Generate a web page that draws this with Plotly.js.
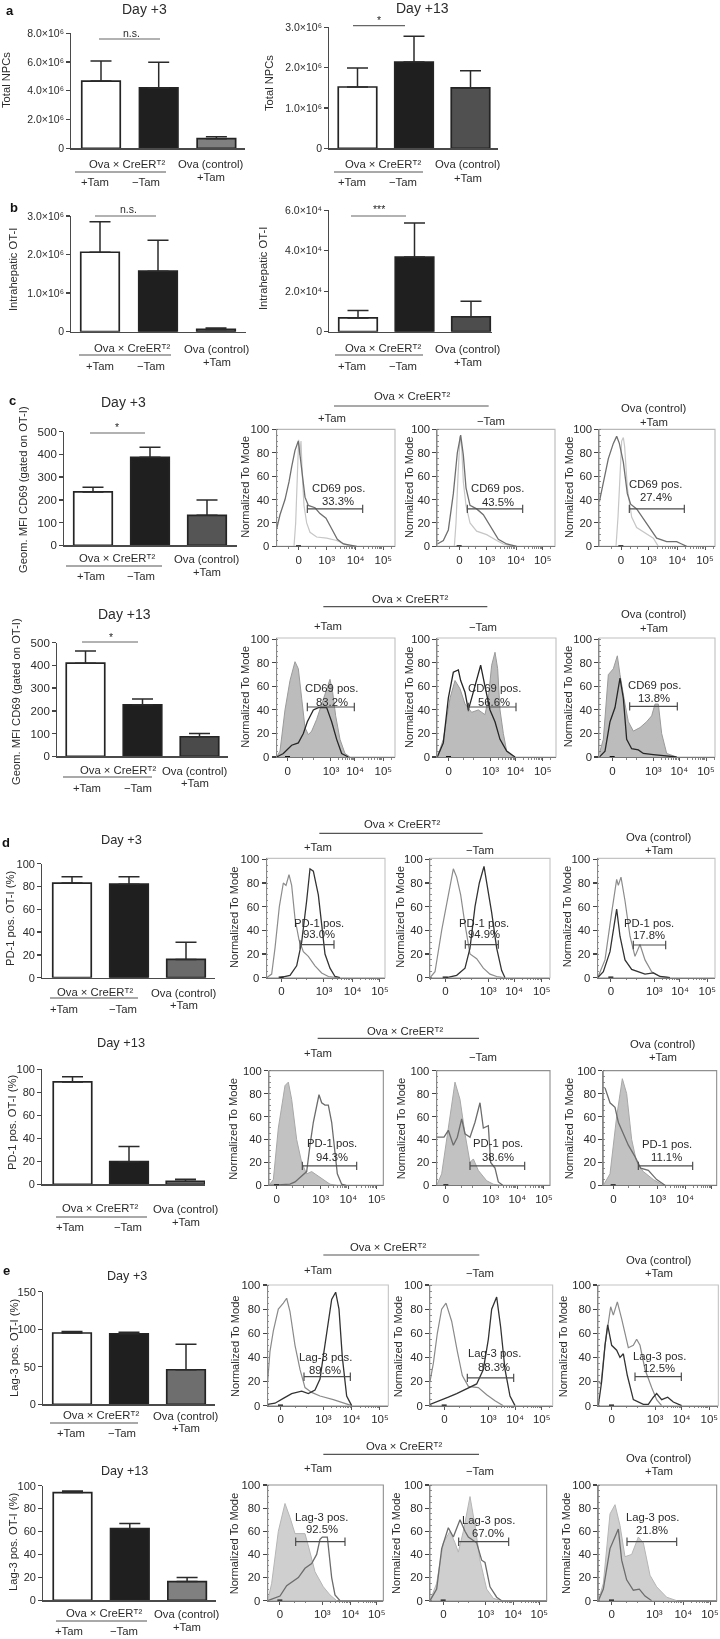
<!DOCTYPE html>
<html><head><meta charset="utf-8">
<script src="https://cdn.plot.ly/plotly-3.0.1.min.js"></script>
<style>html,body{margin:0;padding:0;background:#fff}#chart{width:720px;height:1639px;filter:blur(0.4px)}</style>
</head><body><div id="chart"></div>
<script>
/* ---------- bar chart data ---------- */
const barGroups = ['Ova x CreER +Tam', 'Ova x CreER -Tam', 'Ova (control) +Tam'];
const npcDay3 = [4.68e6, 4.2e6, 0.67e6],      npcDay3Upper = [6.07e6, 5.98e6, 0.81e6];
const npcDay13 = [1.52e6, 2.14e6, 1.50e6],    npcDay13Upper = [1.99e6, 2.78e6, 1.92e6];
const otiDay3 = [2.06e6, 1.57e6, 0.06e6],     otiDay3Upper = [2.85e6, 2.37e6, 0.095e6];
const otiDay13 = [0.68e4, 3.69e4, 0.74e4],    otiDay13Upper = [1.05e4, 5.37e4, 1.5e4];
const cd69Day3 = [235, 387, 132],             cd69Day3Upper = [255, 432, 199];
const cd69Day13 = [410, 227, 86],             cd69Day13Upper = [463, 252, 100];
const pd1Day3 = [83, 82, 16],                 pd1Day3Upper = [88.6, 88.6, 31];
const pd1Day13 = [89, 19.7, 2.6],             pd1Day13Upper = [93.6, 32.8, 4.3];
const lagDay3 = [95, 94, 46],                 lagDay3Upper = [97, 96, 80];
const lagDay13 = [94, 62.5, 16.3],            lagDay13Upper = [95.3, 67, 20];

/* ---------- histogram data: [channel, % of mode] ---------- */
const histTickText = ['0', '10³', '10⁴', '10⁵'];
const groupLabel = 'Ova × CreERᵀ²';
const cd3TamIso = [[222,0],[227,20],[232,60],[234,85],[236,91],[239,78],[243,90],[247,60],[252,35],[260,20],[270,12],[290,8],[320,7],[350,5],[375,2],[390,0]];
const cd3TamCd = [[170,15],[180,27],[195,40],[207,55],[215,68],[225,82],[235,90],[240,78],[247,62],[255,42],[265,35],[285,33],[300,28],[318,24],[335,15],[352,6],[370,2],[395,0.5],[410,0]];
const cd3NoIso = [[703,0],[708,20],[714,60],[720,94],[725,85],[730,55],[738,35],[750,20],[770,13],[800,10],[830,5],[850,2],[880,0]];
const cd3NoCd = [[652,2],[670,5],[685,14],[700,45],[712,80],[722,95],[730,78],[738,50],[750,35],[770,32],[790,27],[810,18],[835,6],[860,2],[890,0]];
const cd3CtlIso = [[1188,0],[1194,25],[1200,60],[1205,90],[1210,93],[1214,85],[1222,50],[1235,25],[1250,16],[1280,11],[1300,7],[1315,0]];
const cd3CtlCd = [[1138,38],[1150,55],[1165,75],[1180,88],[1190,94],[1198,88],[1210,72],[1222,45],[1232,36],[1250,32],[1270,24],[1290,15],[1310,7],[1340,4],[1370,4],[1385,2],[1400,0]];
const cd13TamIso = [[170,0],[180,5],[195,40],[210,65],[225,81],[235,75],[245,50],[255,25],[265,19],[275,22],[290,32],[305,45],[320,58],[330,66],[338,55],[347,35],[360,15],[375,3],[390,0]];
const cd13TamCd = [[170,0],[190,3],[215,10],[235,12],[250,20],[262,30],[280,40],[295,42],[320,42],[335,30],[350,15],[365,3],[385,0]];
const cd13NoIso = [[652,0],[670,15],[690,50],[705,65],[720,58],[735,45],[755,38],[775,40],[795,36],[805,50],[815,78],[825,89],[833,75],[840,40],[850,20],[860,5],[880,0]];
const cd13NoCd = [[652,0],[670,12],[685,50],[700,72],[715,74],[722,65],[735,55],[745,40],[755,50],[770,65],[782,78],[795,60],[810,40],[825,30],[840,15],[860,5],[885,0]];
const cd13CtlIso = [[1138,3],[1150,15],[1165,70],[1180,75],[1192,86],[1200,70],[1215,45],[1225,30],[1240,22],[1260,25],[1280,30],[1295,35],[1305,45],[1315,45],[1325,20],[1340,3],[1370,0]];
const cd13CtlCd = [[1138,0],[1155,5],[1170,30],[1185,42],[1200,67],[1210,50],[1220,15],[1235,7],[1255,6],[1270,3],[1300,2],[1330,1],[1370,0]];
const pd3TamIso = [[140,0],[155,3],[165,25],[178,60],[190,80],[198,78],[207,87],[215,78],[225,50],[237,32],[250,22],[265,18],[285,10],[305,4],[325,1],[350,0]];
const pd3TamCd = [[180,0],[210,2],[230,10],[245,30],[260,65],[270,92],[280,90],[295,70],[305,45],[315,20],[330,8],[345,1],[360,0]];
const pd3NoIso = [[630,0],[645,5],[665,40],[685,70],[700,92],[710,85],[722,70],[735,45],[750,20],[770,16],[790,8],[810,3],[830,1],[850,0]];
const pd3NoCd = [[680,0],[710,2],[735,8],[750,25],[765,60],[778,80],[792,94],[803,75],[815,55],[830,25],[845,6],[855,0]];
const pd3CtlIso = [[1133,0],[1155,15],[1175,55],[1190,83],[1195,78],[1203,85],[1215,65],[1230,35],[1245,18],[1260,28],[1275,15],[1295,5],[1320,1],[1350,0]];
const pd3CtlCd = [[1133,0],[1150,5],[1170,22],[1190,58],[1200,35],[1215,15],[1235,7],[1255,5],[1275,3],[1300,4],[1320,1],[1350,0]];
const pd13TamIso = [[147,0],[160,5],[175,50],[195,87],[205,90],[215,75],[230,40],[245,20],[260,10],[275,12],[300,7],[330,1],[350,0]];
const pd13TamCd = [[147,0],[210,1],[225,3],[245,8],[260,12],[270,35],[280,55],[297,79],[305,72],[315,70],[325,70],[335,55],[345,30],[352,10],[365,1],[378,0]];
const pd13NoIso = [[650,0],[665,10],[685,50],[705,90],[720,75],[735,45],[750,20],[760,23],[775,13],[800,4],[820,1],[840,0]];
const pd13NoCd = [[650,42],[672,42],[685,48],[700,35],[712,42],[725,58],[735,45],[750,42],[765,55],[780,72],[790,50],[805,52],[812,20],[825,15],[835,3],[848,0]];
const pd13CtlIso = [[1150,0],[1170,10],[1190,60],[1207,93],[1220,80],[1235,40],[1250,20],[1270,12],[1300,5],[1330,0]];
const pd13CtlCd = [[1155,85],[1170,72],[1185,68],[1195,55],[1210,45],[1225,35],[1245,25],[1262,15],[1285,13],[1310,5],[1335,0]];
const lg3TamIso = [[143,20],[150,45],[160,62],[175,80],[190,85],[200,89],[210,78],[225,50],[240,30],[255,15],[275,11],[300,8],[340,5],[370,2],[395,0]];
const lg3TamCd = [[143,1],[165,2],[190,6],[215,10],[245,12],[265,10],[285,13],[300,22],[312,45],[325,70],[335,88],[347,94],[357,80],[367,40],[380,8],[395,0]];
const lg3NoIso = [[630,20],[640,35],[652,60],[665,80],[678,85],[695,70],[712,45],[727,25],[745,16],[775,15],[800,9],[825,4],[850,0]];
const lg3NoCd = [[630,1],[660,4],[685,7],[710,10],[740,14],[770,18],[790,30],[805,55],[815,80],[830,90],[842,65],[855,30],[870,8],[885,0]];
const lg3CtlIso = [[1135,20],[1143,18],[1155,50],[1172,82],[1180,75],[1192,86],[1205,72],[1225,48],[1240,50],[1250,55],[1260,50],[1275,30],[1295,15],[1310,5],[1325,0]];
const lg3CtlCd = [[1135,0],[1145,20],[1155,50],[1163,67],[1175,50],[1190,46],[1200,40],[1210,43],[1222,25],[1240,5],[1270,1],[1285,1],[1300,7],[1310,10],[1325,5],[1343,7],[1360,3],[1385,0]];
const lg13TamIso = [[143,0],[155,15],[175,60],[195,84],[210,72],[225,58],[240,58],[255,58],[270,42],[285,25],[310,12],[330,5],[350,0]];
const lg13TamCd = [[143,0],[180,4],[200,13],[215,16],[235,20],[255,28],[275,32],[290,40],[300,53],[307,55],[322,55],[335,20],[345,5],[360,0]];
const lg13NoIso = [[630,0],[650,15],[670,50],[690,60],[705,50],[715,42],[730,60],[750,90],[765,65],[780,35],[800,10],[820,2],[845,0]];
const lg13NoCd = [[630,0],[650,10],[665,45],[685,63],[700,55],[720,70],[735,60],[745,55],[770,50],[785,35],[795,33],[810,12],[830,3],[845,0]];
const lg13CtlIso = [[1135,0],[1150,15],[1170,75],[1185,83],[1200,65],[1215,38],[1235,40],[1255,55],[1270,50],[1290,22],[1310,12],[1340,3],[1370,0]];
const lg13CtlCd = [[1135,0],[1150,10],[1170,45],[1180,52],[1195,62],[1205,35],[1220,18],[1240,9],[1258,10],[1275,4],[1295,0]];

/* ---------- page layout ---------- */
const W = 720, H = 1639, FONT = 'Liberation Sans, Arial, sans-serif', INK = '#2b2b2b';
const traces = [], shapes = [], annotations = [];
const layout = {width:W, height:H, margin:{l:0,r:0,t:0,b:0,pad:0}, paper_bgcolor:'#fff', plot_bgcolor:'rgba(0,0,0,0)',
  showlegend:false, bargap:0, font:{family:FONT,color:INK}, shapes, annotations};
let axisCount = 0;
function text(t, px, py, size, opt){ if(!t) return; annotations.push(Object.assign({text:t, xref:'paper', yref:'paper', x:px/W, y:1-py/H,
  showarrow:false, xanchor:'center', yanchor:'middle', font:{family:FONT,size:size,color:INK}, borderpad:0}, opt||{})); }
function rule(x0,x1,y,color,width){ shapes.push({type:'line', xref:'paper', yref:'paper', x0:x0/W, x1:x1/W, y0:1-y/H, y1:1-y/H, line:{color:color||'#555',width:width||1.2}}); }
function newAxes(left,right,top,base){ axisCount++; const s = axisCount===1?'':axisCount;
  return {xa:'x'+s, ya:'y'+s, xk:'xaxis'+s, yk:'yaxis'+s, dx:[left/W,right/W], dy:[1-base/H,1-top/H]}; }

function barPanel(p){
  const a = newAxes(p.left,p.right,p.top,p.base);
  const c0 = p.c0, sp = p.sp;
  traces.push({type:'bar', x:[0,1,2], y:p.values, customdata:barGroups, width:38.5/sp, xaxis:a.xa, yaxis:a.ya,
    marker:{color:['#ffffff','#1f1f1f',p.gray], line:{color:'#242424',width:1.7}},
    error_y:{type:'data', symmetric:false, array:p.upper.map((u,i)=>u-p.values[i]), arrayminus:[0,0,0], color:'#2a2a2a', thickness:1.5, width:10.5}});
  layout[a.xk] = {domain:a.dx, anchor:a.ya, range:[(p.left-c0)/sp,(p.right-c0)/sp], showgrid:false, zeroline:false, showticklabels:false,
    ticks:'', showline:true, linecolor:'#4a4a4a', linewidth:1.4, fixedrange:true};
  layout[a.yk] = {domain:a.dy, anchor:a.xa, range:[0,p.ymax], showgrid:false, zeroline:false, tickmode:'array', tickvals:p.tickvals, ticktext:p.ticktext,
    ticks:'outside', ticklen:3.5, tickwidth:1.3, tickcolor:'#444', showline:true, linecolor:'#4a4a4a', linewidth:1.4,
    tickfont:{family:FONT,size:p.tf,color:INK}, fixedrange:true};
  text(p.title, p.yt[0], p.yt[1], 11.2, {textangle:-90});
  if (p.day) text(p.day[0], p.day[1], p.day[2], p.day[3]);
  const g = p.grp;
  text(groupLabel, g[0], g[1], 11.3);
  rule(g[2], g[3], g[4], '#555', 1.1);
  text('+Tam', g[5], g[6], 11.3); text('−Tam', g[7], g[6], 11.3);
  text('Ova (control)', g[8], g[1]+0.5, 11.3); text('+Tam', g[8], g[9], 11.3);
  if (p.sig) { rule(p.sig[0], p.sig[1], p.sig[2], '#666', 1.2); text(p.sig[3], p.sig[4], p.sig[5], 10.5); }
}
barPanel({left:71,right:245,top:33.3,base:148.3,c0:101,sp:57.7,values:npcDay3,upper:npcDay3Upper,gray:'#7f7f7f',ymax:8e6,tf:10.5,
  tickvals:[0,2e6,4e6,6e6,8e6],ticktext:['0','2.0×10⁶','4.0×10⁶','6.0×10⁶','8.0×10⁶'],title:'Total NPCs',yt:[6,80],day:['Day +3',144,9,14],
  grp:[127,164,75,166,172,95,182,146,211,177],sig:[99,160,39,'n.s.',131,33]});
barPanel({left:329,right:498,top:27.3,base:148.3,c0:357.5,sp:56.5,values:npcDay13,upper:npcDay13Upper,gray:'#505050',ymax:3e6,tf:10.5,
  tickvals:[0,1e6,2e6,3e6],ticktext:['0','1.0×10⁶','2.0×10⁶','3.0×10⁶'],title:'Total NPCs',yt:[269,83],day:['Day +13',422,8,14],
  grp:[383,164,334,423,172,352,182,403,468,178],sig:[353,405,25.7,'*',379,20]});
barPanel({left:71,right:246,top:216,base:331.7,c0:100,sp:58,values:otiDay3,upper:otiDay3Upper,gray:'#666666',ymax:3e6,tf:10.5,
  tickvals:[0,1e6,2e6,3e6],ticktext:['0','1.0×10⁶','2.0×10⁶','3.0×10⁶'],title:'Intrahepatic OT-I',yt:[13,270],
  grp:[132,348,79,171,355,100,366,151,217,362],sig:[95,156,216,'n.s.',128,209]});
barPanel({left:329,right:492,top:210.3,base:331.7,c0:358,sp:56.5,values:otiDay13,upper:otiDay13Upper,gray:'#4d4d4d',ymax:6e4,tf:10.5,
  tickvals:[0,2e4,4e4,6e4],ticktext:['0','2.0×10⁴','4.0×10⁴','6.0×10⁴'],title:'Intrahepatic OT-I',yt:[263,269],
  grp:[383,348,335,423,355,352,366,403,468,362],sig:[351,406,216,'***',379,209]});
const T500=[0,100,200,300,400,500], T100=[0,20,40,60,80,100];
barPanel({left:64,right:237,top:431.7,base:545.3,c0:93,sp:57,values:cd69Day3,upper:cd69Day3Upper,gray:'#555555',ymax:500,tf:11.5,
  tickvals:T500,ticktext:T500.map(String),title:'Geom. MFI CD69 (gated on OT-I)',yt:[23,490],day:['Day +3',123,402,14],
  grp:[117,558,66,162,566,91,576,141,207,572],sig:[90,145,433,'*',117,427]});
barPanel({left:57,right:228,top:642.7,base:756.3,c0:85.5,sp:57,values:cd69Day13,upper:cd69Day13Upper,gray:'#4a4a4a',ymax:500,tf:11.5,
  tickvals:T500,ticktext:T500.map(String),title:'Geom. MFI CD69 (gated on OT-I)',yt:[16,702],day:['Day +13',124,614,14],
  grp:[118,770,63,152,777,87,788,138,195,783],sig:[82,138,642,'*',111,637]});
barPanel({left:42,right:215,top:863.7,base:977.7,c0:72,sp:57,values:pd1Day3,upper:pd1Day3Upper,gray:'#6a6a6a',ymax:100,tf:11,
  tickvals:T100,ticktext:T100.map(String),title:'PD-1 pos. OT-I (%)',yt:[10,919],day:['Day +3',121,839,12.8],
  grp:[95,992,50,138,998,64,1009,123,184,1005]});
barPanel({left:42,right:205,top:1069.3,base:1184.3,c0:72.5,sp:56.5,values:pd1Day13,upper:pd1Day13Upper,gray:'#777777',ymax:100,tf:11,
  tickvals:T100,ticktext:T100.map(String),title:'PD-1 pos. OT-I (%)',yt:[12,1123],day:['Day +13',121,1042,12.8],
  grp:[100,1208,56,147,1217,70,1227,128,186,1222]});
barPanel({left:43,right:215,top:1291.7,base:1404.3,c0:72,sp:57,values:lagDay3,upper:lagDay3Upper,gray:'#6e6e6e',ymax:150,tf:11,
  tickvals:[0,50,100,150],ticktext:['0','50','100','150'],title:'Lag-3 pos. OT-I (%)',yt:[14,1348],day:['Day +3',127,1276,12.6],
  grp:[101,1415,50,138,1423,71,1433,122,186,1428]});
barPanel({left:43,right:216,top:1485.7,base:1600.3,c0:72.5,sp:57.3,values:lagDay13,upper:lagDay13Upper,gray:'#808080',ymax:100,tf:11,
  tickvals:T100,ticktext:T100.map(String),title:'Lag-3 pos. OT-I (%)',yt:[13,1542],day:['Day +13',124,1471,12.6],
  grp:[104,1613,56,147,1621,69,1631,124,187,1627]});

const panelLetters=[['a',10,10],['b',14,208],['c',13,400],['d',6,842],['e',6,1270]];
panelLetters.forEach(l=>text(l[0],l[1],l[2],13,{font:{family:FONT,size:13,color:'#111',weight:700}}));

function histRow(r){
  const X = zx=>r.off[0]+zx/3, Y = zy=>r.off[1]+zy/3;
  r.panels.forEach((p,i)=>{
    const a = newAxes(X(p.box[0]),X(p.box[1]),Y(r.top),Y(r.base));
    const ymax = 100*(r.base-r.top)/(r.base-r.y100);
    const iso=p.iso, cd=p.cd;
    const xy = d=>({x:d.map(q=>q[0]), y:d.map(q=>q[1])});
    if (r.filled) {
      traces.push(Object.assign(xy(iso),{type:'scatter',mode:'lines',fill:'tozeroy',fillcolor:r.fill,line:{color:r.isoLine,width:1},xaxis:a.xa,yaxis:a.ya}));
    } else {
      traces.push(Object.assign(xy(iso),{type:'scatter',mode:'lines',line:{color:r.isoLine,width:1.2},xaxis:a.xa,yaxis:a.ya}));
    }
    traces.push(Object.assign(xy(cd),{type:'scatter',mode:'lines',line:{color:r.cdLine,width:1.3},xaxis:a.xa,yaxis:a.ya}));
    traces.push({type:'scatter',mode:'lines+markers',x:[p.gate[0],p.gate[1]],y:[p.gate[2],p.gate[2]],xaxis:a.xa,yaxis:a.ya,
      line:{color:'#4d4d4d',width:1.2},marker:{symbol:'line-ns',size:6,line:{color:'#4d4d4d',width:1.2}}});
    const t=p.ticks, minor=[];
    [[t[0],t[1]],[t[1],t[2]],[t[2],t[3]]].forEach((s,k)=>{ if(k>0) [0.3,0.48,0.6,0.7,0.78,0.85,0.9,0.95].forEach(f=>minor.push(s[0]+f*(s[1]-s[0]))); });
    minor.push(t[0]-(t[1]-t[0])*0.35, t[0]+(t[1]-t[0])*0.35, t[0]+(t[1]-t[0])*0.6, t[3]+(t[3]-t[2])*0.3);
    layout[a.xk]={domain:a.dx,anchor:a.ya,range:[p.box[0],p.box[1]],showgrid:false,zeroline:false,tickmode:'array',tickvals:t,ticktext:histTickText,
      ticks:'outside',ticklen:3,tickwidth:1,tickcolor:'#555',tickfont:{family:FONT,size:11.5,color:INK},showline:true,linecolor:'#777',linewidth:1,fixedrange:true,
      minor:{tickmode:'array',tickvals:minor,ticks:'outside',ticklen:1.5,tickcolor:'#666',tickwidth:0.8,showgrid:false}};
    layout[a.yk]={domain:a.dy,anchor:a.xa,range:[0,ymax],showgrid:false,zeroline:false,tickmode:'array',tickvals:T100,ticktext:T100.map(String),
      ticks:'outside',ticklen:4,tickwidth:1.1,tickcolor:'#444',tickfont:{family:FONT,size:11.3,color:INK},showline:true,linecolor:'#888',linewidth:1,fixedrange:true,
      minor:{tickmode:'linear',tick0:0,dtick:5,ticks:'inside',ticklen:1.5,tickcolor:'#777',tickwidth:0.8,showgrid:false}};
    shapes.push({type:'rect',xref:a.xa+' domain',yref:a.ya+' domain',x0:0,x1:1,y0:0,y1:1,line:{color:r.boxColor,width:1.1},layer:'below'});
    shapes.push({type:'line',xref:a.xa,yref:a.ya,x0:t[0]-8,x1:t[0]+7,y0:0,y1:0,line:{color:'#111',width:2.2}});
    text('Normalized To Mode', X(p.yt), Y(r.ytY), 11.1, {textangle:-90});
    text(r.name+' pos.', X(p.lab[0]), Y(p.lab[1]), 11.3);
    text(p.pct, X(p.lab[0]), Y(p.lab[2]), 11.3);
  });
  const h=r.head;
  text(groupLabel, X(h[0]), Y(h[1]), 11.3);
  rule(X(h[2]),X(h[3]),Y(h[4]),'#555',1.2);
  text('+Tam',X(h[5]),Y(h[6]),11.3); text('−Tam',X(h[7]),Y(h[8]),11.3);
  text('Ova (control)',X(h[9]),Y(h[10]),11.3); text('+Tam',X(h[9]),Y(h[11]),11.3);
}
histRow({off:[220,385],top:133,base:484,y100:133,filled:false,isoLine:'#c6c6c6',cdLine:'#6f6f6f',boxColor:'#b8b8b8',name:'CD69',ytY:305,
  head:[575,33,342,806,63,335,98,812,108,1303,70,110],
  panels:[
  {box:[170,525],ticks:[236,320,407,490],iso:cd3TamIso,cd:cd3TamCd,gate:[262,428,32],lab:[355,308,348],pct:'33.3%',yt:75},
  {box:[652,1005],ticks:[718,800,888,968],iso:cd3NoIso,cd:cd3NoCd,gate:[742,908,32],lab:[833,310,351],pct:'43.5%',yt:565},
  {box:[1138,1485],ticks:[1203,1285,1372,1455],iso:cd3CtlIso,cd:cd3CtlCd,gate:[1228,1393,32],lab:[1307,296,336],pct:'27.4%',yt:1045}]});
histRow({off:[220,590],top:144,base:501,y100:148,filled:true,fill:'#bcbcbc',isoLine:'#9a9a9a',cdLine:'#262626',boxColor:'#c0c0c0',name:'CD69',ytY:320,
  head:[570,28,310,802,50,323,107,788,112,1303,73,114],
  panels:[
  {box:[170,525],ticks:[203,333,405,490],iso:cd13TamIso,cd:cd13TamCd,gate:[262,403,42.5],lab:[335,294,335],pct:'83.2%',yt:75},
  {box:[652,1008],ticks:[686,812,887,968],iso:cd13NoIso,cd:cd13NoCd,gate:[745,888,42.5],lab:[822,294,335],pct:'56.6%',yt:565},
  {box:[1138,1485],ticks:[1177,1300,1378,1458],iso:cd13CtlIso,cd:cd13CtlCd,gate:[1229,1372,43],lab:[1303,285,325],pct:'13.8%',yt:1043}]});
histRow({off:[220,825],top:100,base:458,y100:103,filled:false,isoLine:'#8c8c8c',cdLine:'#333333',boxColor:'#c4c4c4',name:'PD-1',ytY:275,
  head:[545,-4,298,788,25,293,65,780,76,1317,35,76],
  panels:[
  {box:[140,495],ticks:[184,312,398,480],iso:pd3TamIso,cd:pd3TamCd,gate:[240,342,28],lab:[297,295,328],pct:'93.0%',yt:40},
  {box:[630,990],ticks:[676,805,882,965],iso:pd3NoIso,cd:pd3NoCd,gate:[736,835,28],lab:[792,295,328],pct:'94.9%',yt:540},
  {box:[1133,1485],ticks:[1173,1303,1380,1462],iso:pd3CtlIso,cd:pd3CtlCd,gate:[1240,1337,27.6],lab:[1288,295,330],pct:'17.8%',yt:1040}]});
histRow({off:[220,1020],top:152,base:496,y100:152,filled:true,fill:'#c2c2c2',isoLine:'#a8a8a8',cdLine:'#6c6c6c',boxColor:'#8f8f8f',name:'PD-1',ytY:325,
  head:[555,33,293,777,55,293,100,790,110,1328,72,110],
  panels:[
  {box:[147,490],ticks:[170,302,385,470],iso:pd13TamIso,cd:pd13TamCd,gate:[247,410,17],lab:[337,370,410],pct:'94.3%',yt:40},
  {box:[650,990],ticks:[678,812,892,972],iso:pd13NoIso,cd:pd13NoCd,gate:[750,914,17],lab:[833,370,410],pct:'38.6%',yt:543},
  {box:[1150,1490],ticks:[1180,1313,1395,1475],iso:pd13CtlIso,cd:pd13CtlCd,gate:[1255,1418,17],lab:[1340,372,412],pct:'11.1%',yt:1047}]});
histRow({off:[220,1235],top:150,base:512,y100:150,filled:false,isoLine:'#8a8a8a',cdLine:'#333333',boxColor:'#c4c4c4',name:'Lag-3',ytY:333,
  head:[505,37,310,778,60,293,105,780,115,1317,75,115],
  panels:[
  {box:[143,505],ticks:[182,310,395,480],iso:lg3TamIso,cd:lg3TamCd,gate:[252,391,24],lab:[315,367,405],pct:'89.6%',yt:45},
  {box:[630,998],ticks:[673,805,885,965],iso:lg3NoIso,cd:lg3NoCd,gate:[742,881,23],lab:[822,355,395],pct:'88.3%',yt:535},
  {box:[1135,1495],ticks:[1175,1305,1385,1468],iso:lg3CtlIso,cd:lg3CtlCd,gate:[1245,1384,24],lab:[1317,362,400],pct:'12.5%',yt:1030}]});
histRow({off:[220,1435],top:150,base:497,y100:150,filled:true,fill:'#cfcfcf',isoLine:'#b5b5b5',cdLine:'#6c6c6c',boxColor:'#8f8f8f',name:'Lag-3',ytY:325,
  head:[553,32,310,777,58,293,98,780,108,1317,68,108],
  panels:[
  {box:[143,490],ticks:[180,307,392,470],iso:lg13TamIso,cd:lg13TamCd,gate:[227,375,51],lab:[305,245,283],pct:'92.5%',yt:42},
  {box:[630,980],ticks:[670,797,880,958],iso:lg13NoIso,cd:lg13NoCd,gate:[716,866,51],lab:[805,255,293],pct:'67.0%',yt:530},
  {box:[1135,1490],ticks:[1175,1303,1390,1470],iso:lg13CtlIso,cd:lg13CtlCd,gate:[1221,1370,51],lab:[1297,245,285],pct:'21.8%',yt:1040}]});

Plotly.newPlot('chart', traces, layout, {staticPlot:true, displayModeBar:false, responsive:false});
</script></body></html>
